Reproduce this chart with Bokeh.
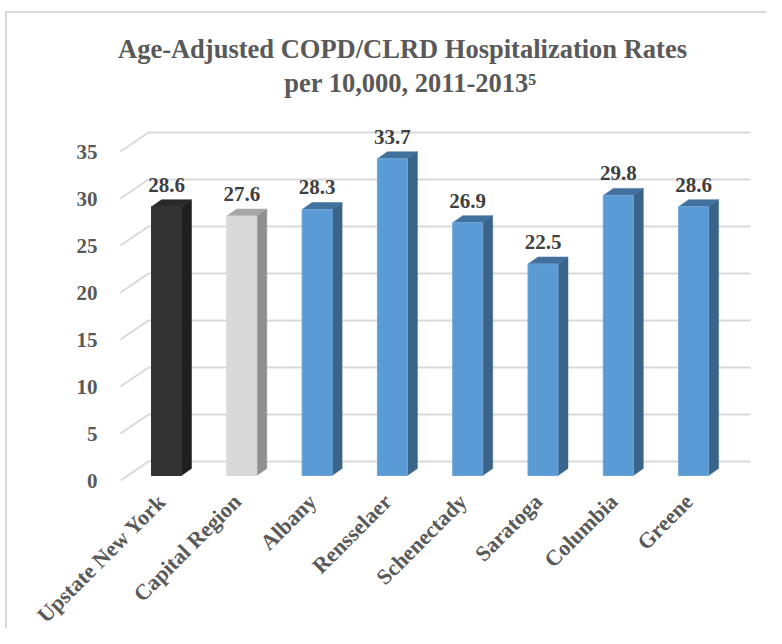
import math
from bokeh.plotting import figure
from bokeh.models import Range1d, FixedTicker, Label, ColumnDataSource, LabelSet
from bokeh.embed import file_html
from bokeh.resources import INLINE
from bokeh.core.properties import value

# ---------------- data ----------------
categories = ["Upstate New York", "Capital Region", "Albany", "Rensselaer",
              "Schenectady", "Saratoga", "Columbia", "Greene"]
rates = [28.6, 27.6, 28.3, 33.7, 26.9, 22.5, 29.8, 28.6]
y_ticks = [0, 5, 10, 15, 20, 25, 30, 35]
title_line1 = "Age-Adjusted COPD/CLRD Hospitalization Rates"
title_line2 = "per 10,000, 2011-2013\u2075"

# ---------------- styles ----------------
front_colors = ["#333333", "#d9d9d9"] + ["#5b9bd5"] * 6
side_colors = ["#1f1f1f", "#8f8f8f"] + ["#3a6489"] * 6
top_colors = ["#292929", "#a6a6a6"] + ["#41719c"] * 6
edge_colors = ["#333333", "#d9d9d9"] + ["#6fa6d9"] * 6
TEXT = "#595959"
FONT = "Liberation Serif"

W, H = 766, 628
FL = 0            # frame covers the whole canvas
AXIS_X = 108      # canvas px where the value axis sits (labels end 5px left)
SX = 75.3         # px per category
SY = 9.4          # px per value unit
X0PX = 166        # canvas px of first bar front centre
Y0PX = 480        # canvas px of value 0 on front plane

x_start = -(X0PX - FL) / SX
x_end = x_start + (W - FL) / SX
y_start = -(H - Y0PX) / SY
y_end = Y0PX / SY


def dx(px):
    return px / SX


def dy(px):
    return px / SY


def xc(px):
    return x_start + (px - FL) / SX


def yc(py):
    return (Y0PX - py) / SY


p = figure(width=W, height=H, output_backend="svg", toolbar_location=None,
           x_range=Range1d(x_start, x_end), y_range=Range1d(y_start, y_end),
           min_border=0, min_border_left=0, min_border_right=0,
           min_border_top=0, min_border_bottom=0)
p.outline_line_color = None
p.grid.visible = False
# transparent canvas so the CSS-drawn chart-area border shows through
p.background_fill_alpha = 0
p.border_fill_alpha = 0
p.styles = {
    "background-color": "white",
    "background-image": "linear-gradient(#d9d9d9, #d9d9d9), linear-gradient(#d9d9d9, #d9d9d9)",
    "background-size": "2px 100%, 100% 2px",
    "background-position": "5px 11px, 5px 11px",
    "background-repeat": "no-repeat",
}

# ---------------- gridlines (3D walls) ----------------
gxs, gys = [], []
for v in y_ticks:
    gxs.append([xc(120), xc(148), xc(750)])
    gys.append([v, v + dy(19), v + dy(19)])
p.multi_line(gxs, gys, line_color="#d9d9d9", line_width=2)

# ---------------- 3D bars ----------------
base = dy(5)
hw = dx(15)
sdx = dx(10)
sdy = dy(7)
xs_i = list(range(len(categories)))

side_x, side_y, top_x, top_y = [], [], [], []
for i, v in zip(xs_i, rates):
    t = base + v
    side_x.append([i + hw, i + hw + sdx, i + hw + sdx, i + hw])
    side_y.append([base, base + sdy, t + sdy, t])
    top_x.append([i - hw, i + hw, i + hw + sdx, i - hw + sdx])
    top_y.append([t, t, t + sdy, t + sdy])

p.patches(side_x, side_y, fill_color=side_colors, line_color=side_colors, line_width=0.5)
p.patches(top_x, top_y, fill_color=top_colors, line_color=top_colors, line_width=0.5)
p.quad(left=[i - hw for i in xs_i], right=[i + hw for i in xs_i],
       bottom=[base] * len(xs_i), top=[base + v for v in rates],
       fill_color=front_colors, line_color=edge_colors, line_width=1)

# ---------------- value labels ----------------
lab_src = ColumnDataSource(dict(
    x=xs_i, y=[base + v + dy(22) for v in rates],
    text=["%.1f" % v for v in rates]))
p.add_layout(LabelSet(x="x", y="y", text="text", source=lab_src,
                      text_align="center", text_baseline="middle",
                      text_font=value(FONT), text_font_style="bold",
                      text_font_size="21px", text_color="#3f3f3f"))

# ---------------- category labels (slanted, under each bar) ----------------
cat_src = ColumnDataSource(dict(
    x=[i - dx(13.5) for i in xs_i], y=[-dy(8.5)] * len(xs_i), text=categories))
p.add_layout(LabelSet(x="x", y="y", text="text", source=cat_src,
                      angle=math.pi / 4, text_align="right", text_baseline="top",
                      text_font=value(FONT), text_font_style="bold",
                      text_font_size="22px", text_color=TEXT))

# ---------------- title ----------------
p.add_layout(Label(x=xc(402), y=yc(48), text=title_line1, text_align="center",
                   text_baseline="middle", text_font=FONT,
                   text_font_style="bold", text_font_size="26.5px", text_color=TEXT))
p.add_layout(Label(x=xc(410), y=yc(82), text=title_line2, text_align="center",
                   text_baseline="middle", text_font=FONT,
                   text_font_style="bold", text_font_size="26.5px", text_color=TEXT))

# ---------------- axes ----------------
p.xaxis.visible = False
p.yaxis.fixed_location = xc(AXIS_X)
p.yaxis.ticker = FixedTicker(ticks=y_ticks)
p.yaxis.axis_line_color = None
p.yaxis.major_tick_line_color = None
p.yaxis.minor_tick_line_color = None
p.yaxis.major_label_standoff = 5
p.yaxis.major_label_text_font = FONT
p.yaxis.major_label_text_font_style = "bold"
p.yaxis.major_label_text_font_size = "21px"
p.yaxis.major_label_text_color = TEXT

open("out.html", "w").write(file_html(p, INLINE))
